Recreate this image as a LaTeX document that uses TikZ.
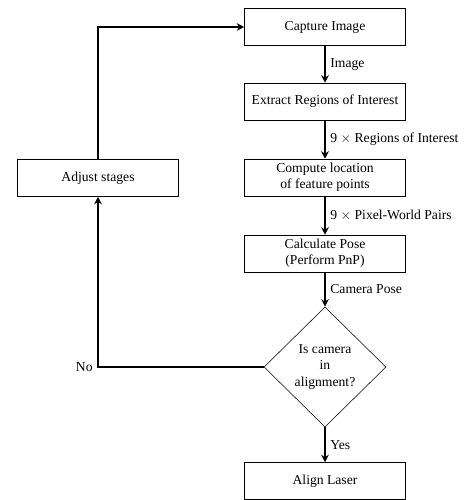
\documentclass[tikz,border=0pt]{standalone}
\usepackage{fontspec}
\setmainfont{Liberation Serif}
\usetikzlibrary{shapes.geometric,arrows.meta}

\begin{document}
\begin{tikzpicture}[x=0.733pt,y=-0.733pt,
		stage/.style={draw,thin,minimum width=118pt,minimum height=27.1pt,align=center,inner sep=1pt},
		check/.style={draw,thin,diamond,minimum width=89.4pt,minimum height=88pt,align=center,inner sep=0pt},
		flow/.style={very thick,-{Stealth[length=5.5pt,width=5.5pt]}}]
		\useasboundingbox (0,0) rectangle (468,500);

		\node[stage] (cap) at (325,27) {Capture Image};
		\node[stage] (roi) at (325,101.5) {Extract Regions of Interest};
		\node[stage] (feat) at (325,177.5) {Compute location\\of feature points};
		\node[stage] (pose) at (325,253.5) {Calculate Pose\\(Perform PnP)};
		\node[check] (ok) at (325,367) {Is camera\\in\\alignment?};
		\node[stage] (laser) at (325,481) {Align Laser};
		\node[stage] (adj) at (98,178) {Adjust stages};

		\draw[flow] (cap) -- node[right]{Image} (roi);
		\draw[flow] (roi) -- node[right]{9 $\times$ Regions of Interest} (feat);
		\draw[flow] (feat) -- node[right]{9 $\times$ Pixel-World Pairs} (pose);
		\draw[flow] (pose) -- node[right]{Camera Pose} (ok);
		\draw[flow] (ok) -- node[right]{Yes} (laser);
		\draw[flow] (ok.west) -| node[pos=.5,left]{No} (adj.south);
		\draw[flow] (adj.north) |- (cap.west);
\end{tikzpicture}
\end{document}
